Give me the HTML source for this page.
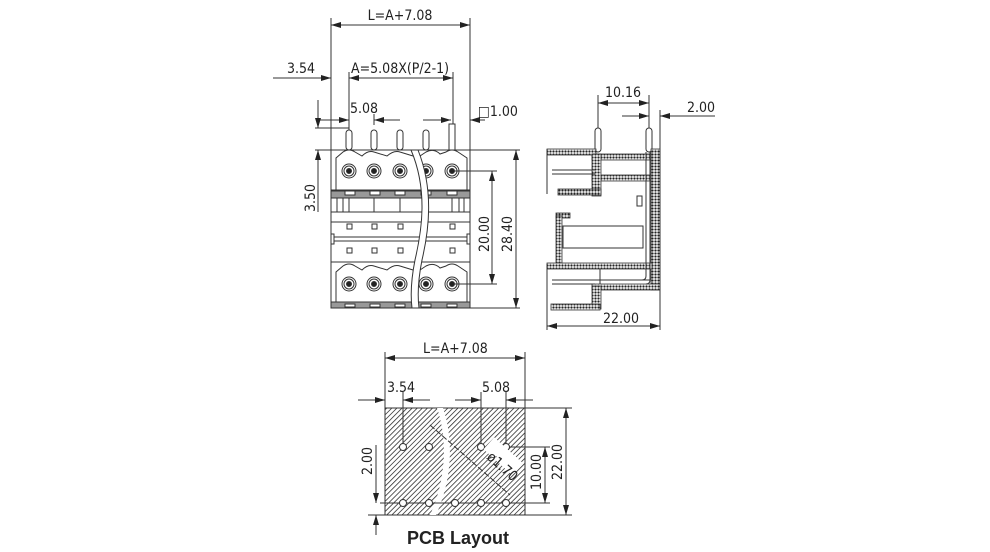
<!DOCTYPE html>
<html><head><meta charset="utf-8"><style>
html,body{margin:0;padding:0;background:#fff;}
svg{display:block;}
text{font-family:"DejaVu Sans Condensed","Liberation Sans Narrow","Liberation Sans",sans-serif;fill:#222;}
</style></head><body>
<svg width="990" height="552" viewBox="0 0 990 552" xmlns="http://www.w3.org/2000/svg">
<defs>
<marker id="a" viewBox="0 0 10 6" refX="10" refY="3" markerWidth="10" markerHeight="6" orient="auto-start-reverse" markerUnits="userSpaceOnUse"><path d="M0,0L10,3L0,6z" fill="#222"/></marker>
<pattern id="h" width="3.6" height="3.6" patternUnits="userSpaceOnUse" patternTransform="rotate(45)"><rect width="3.6" height="3.6" fill="#fff"/><line x1="0" y1="0" x2="0" y2="3.6" stroke="#333" stroke-width="1.6"/></pattern>
<pattern id="d" width="3" height="3" patternUnits="userSpaceOnUse"><rect width="3" height="3" fill="#fff"/><circle cx="1.5" cy="1.5" r="1.15" fill="#222"/></pattern>
</defs>
<g stroke="#333" stroke-width="1" fill="none">
<!-- FRONT VIEW dims -->
<line x1="331" y1="18" x2="331" y2="150"/><line x1="470" y1="18" x2="470" y2="150"/>
<line x1="331" y1="25" x2="470" y2="25" marker-start="url(#a)" marker-end="url(#a)"/>
<line x1="273" y1="78" x2="331" y2="78" marker-end="url(#a)"/>
<line x1="349" y1="78" x2="453" y2="78" marker-start="url(#a)" marker-end="url(#a)"/>
<line x1="349" y1="72" x2="349" y2="130"/><line x1="453" y1="72" x2="453" y2="125"/>
<line x1="320" y1="120" x2="349" y2="120" marker-end="url(#a)"/>
<line x1="374" y1="120" x2="400" y2="120" marker-start="url(#a)"/>
<line x1="374" y1="114" x2="374" y2="125"/>
<line x1="423" y1="120" x2="451" y2="120" marker-end="url(#a)"/>
<line x1="470" y1="120" x2="485" y2="120" marker-start="url(#a)"/>
<line x1="315" y1="128" x2="349" y2="128"/><line x1="315" y1="150" x2="520" y2="150"/>
<line x1="318" y1="100" x2="318" y2="128" marker-end="url(#a)"/>
<line x1="318" y1="150" x2="318" y2="212" marker-start="url(#a)"/>
<line x1="452" y1="171" x2="497" y2="171"/><line x1="452" y1="284" x2="497" y2="284"/>
<line x1="470" y1="308" x2="520" y2="308"/>
<line x1="492" y1="171" x2="492" y2="284" marker-start="url(#a)" marker-end="url(#a)"/>
<line x1="516" y1="150" x2="516" y2="308" marker-start="url(#a)" marker-end="url(#a)"/>
<!-- body -->
<line x1="331" y1="150" x2="331" y2="308"/><line x1="470" y1="150" x2="470" y2="308"/>
<path d="M336,190 V158 L343,152 Q349,148 355,152 L362,156 Q368,150 374,152 L387,156 Q394,150 400,152 L413,156 M420,156 L426,152 Q434,148 440,154 L446,152 Q452,148 458,152 L467,158 V190"/>
<line x1="331" y1="190" x2="470" y2="190"/>
<rect x="331" y="191" width="139" height="7" fill="#999"/>
<line x1="331" y1="212" x2="470" y2="212"/><line x1="331" y1="222" x2="470" y2="222"/>
<line x1="331" y1="237" x2="470" y2="237"/><line x1="331" y1="241" x2="470" y2="241"/>
<line x1="331" y1="262" x2="470" y2="262"/>
<path d="M336,302 V272 L343,266 Q349,262 355,266 L362,270 Q368,264 374,266 L387,270 Q394,264 400,266 L413,270 M420,270 L426,266 Q434,262 440,268 L446,266 Q452,262 458,266 L467,272 V302"/>
<rect x="331" y="302" width="139" height="6" fill="#999"/>
<g fill="#fff">
<rect x="346" y="130" width="6" height="20" rx="3"/><rect x="371" y="130" width="6" height="20" rx="3"/><rect x="397" y="130" width="6" height="20" rx="3"/><rect x="423" y="130" width="6" height="20" rx="3"/><rect x="449" y="124" width="6" height="26"/>
</g>
<g fill="#fff">
<rect x="345" y="191" width="10" height="4"/><rect x="370" y="191" width="10" height="4"/><rect x="395" y="191" width="10" height="4"/><rect x="421" y="191" width="10" height="4"/><rect x="447" y="191" width="10" height="4"/>
<rect x="345" y="304" width="10" height="3"/><rect x="370" y="304" width="10" height="3"/><rect x="395" y="304" width="10" height="3"/><rect x="421" y="304" width="10" height="3"/><rect x="447" y="304" width="10" height="3"/>
<rect x="347" y="224" width="5" height="5"/><rect x="372" y="224" width="5" height="5"/><rect x="398" y="224" width="5" height="5"/><rect x="450" y="224" width="5" height="5"/>
<rect x="347" y="248" width="5" height="5"/><rect x="372" y="248" width="5" height="5"/><rect x="398" y="248" width="5" height="5"/><rect x="450" y="248" width="5" height="5"/>
<rect x="331" y="234" width="3" height="10"/><rect x="467" y="234" width="3" height="10"/>
</g>
<g>
<line x1="337" y1="198" x2="337" y2="212"/><line x1="343" y1="198" x2="343" y2="212"/><line x1="349" y1="198" x2="349" y2="212"/><line x1="374" y1="198" x2="374" y2="212"/><line x1="400" y1="198" x2="400" y2="212"/><line x1="452" y1="198" x2="452" y2="212"/><line x1="459" y1="198" x2="459" y2="212"/><line x1="464" y1="198" x2="464" y2="212"/>
</g>
<g id="c1">
<circle cx="349" cy="171" r="7"/><circle cx="349" cy="171" r="5"/><circle cx="349" cy="171" r="2.5" fill="#222"/>
<circle cx="374" cy="171" r="7"/><circle cx="374" cy="171" r="5"/><circle cx="374" cy="171" r="2.5" fill="#222"/>
<circle cx="400" cy="171" r="7"/><circle cx="400" cy="171" r="5"/><circle cx="400" cy="171" r="2.5" fill="#222"/>
<circle cx="426" cy="171" r="7"/><circle cx="426" cy="171" r="5"/><circle cx="426" cy="171" r="2.5" fill="#222"/>
<circle cx="452" cy="171" r="7"/><circle cx="452" cy="171" r="5"/><circle cx="452" cy="171" r="2.5" fill="#222"/>
</g>
<use href="#c1" y="113"/>
<path d="M411,150 C428,190 422,230 415,260 C410,285 411,300 412,308 L419,308 C418,300 417,285 422,260 C429,230 434,190 418,150 Z" fill="#fff" stroke="#333"/>

<!-- SIDE VIEW -->
<line x1="598" y1="95" x2="598" y2="130"/><line x1="649" y1="95" x2="649" y2="130"/>
<line x1="598" y1="103" x2="649" y2="103" marker-start="url(#a)" marker-end="url(#a)"/>
<line x1="622" y1="116" x2="649" y2="116" marker-end="url(#a)"/>
<line x1="660" y1="116" x2="715" y2="116" marker-start="url(#a)"/>
<line x1="660" y1="110" x2="660" y2="330"/><line x1="547" y1="300" x2="547" y2="330"/>
<line x1="547" y1="326" x2="660" y2="326" marker-start="url(#a)" marker-end="url(#a)"/>
<rect x="595" y="128" width="6" height="24" rx="3" fill="#fff"/><rect x="646" y="128" width="6" height="24" rx="3" fill="#fff"/>
<g fill="url(#d)" stroke="#333" stroke-width="0.8">
<rect x="547" y="149" width="49" height="6"/>
<rect x="592" y="154" width="60" height="6"/>
<rect x="592" y="175" width="60" height="6"/>
<rect x="592" y="154" width="9" height="42"/>
<rect x="558" y="189" width="43" height="6"/>
<rect x="651" y="149" width="9" height="141"/>
<rect x="556" y="213" width="14" height="5"/>
<rect x="556" y="216" width="6" height="50"/>
<rect x="547" y="263" width="105" height="6"/>
<rect x="592" y="284" width="68" height="6"/>
<rect x="592" y="286" width="9" height="23"/>
<rect x="551" y="304" width="49" height="6"/>
</g>
<line x1="547" y1="149" x2="547" y2="194"/><line x1="547" y1="264" x2="547" y2="310"/>
<line x1="552" y1="170" x2="595" y2="170"/><line x1="552" y1="174" x2="595" y2="174"/>
<line x1="552" y1="280" x2="650" y2="280"/><line x1="552" y1="284" x2="595" y2="284"/>
<path d="M646,152 V276 Q646,280 642,280" /><path d="M650,152 V280 Q650,284 646,284"/>
<rect x="563" y="226" width="80" height="22"/>
<rect x="637" y="196" width="5" height="10"/>
<line x1="600" y1="269" x2="600" y2="284"/>
</g>

<!-- PCB -->
<g stroke="#333" stroke-width="1" fill="none">
<rect x="385" y="408" width="140" height="107" fill="url(#h)"/>
<path d="M437,408 C448,440 446,480 430,515 L436,515 C452,480 454,440 443,408 Z" fill="#fff" stroke="none"/>
<line x1="385" y1="352" x2="385" y2="408"/><line x1="525" y1="352" x2="525" y2="408"/>
<line x1="385" y1="358" x2="525" y2="358" marker-start="url(#a)" marker-end="url(#a)"/>
<line x1="358" y1="400" x2="385" y2="400" marker-end="url(#a)"/>
<line x1="403" y1="400" x2="430" y2="400" marker-start="url(#a)"/>
<line x1="455" y1="400" x2="481" y2="400" marker-end="url(#a)"/>
<line x1="506" y1="400" x2="533" y2="400" marker-start="url(#a)"/>
<line x1="403" y1="392" x2="403" y2="447"/><line x1="481" y1="392" x2="481" y2="447"/><line x1="506" y1="392" x2="506" y2="447"/>
<line x1="525" y1="408" x2="572" y2="408"/><line x1="525" y1="515" x2="572" y2="515"/>
<line x1="506" y1="447" x2="550" y2="447"/><line x1="380" y1="503" x2="550" y2="503"/>
<line x1="368" y1="515" x2="385" y2="515"/>
<line x1="566" y1="408" x2="566" y2="515" marker-start="url(#a)" marker-end="url(#a)"/>
<line x1="545" y1="447" x2="545" y2="503" marker-start="url(#a)" marker-end="url(#a)"/>
<line x1="376" y1="445" x2="376" y2="503" marker-end="url(#a)"/>
<line x1="376" y1="535" x2="376" y2="515" marker-end="url(#a)"/>
<line x1="430" y1="425" x2="510" y2="495" stroke-dasharray="6,2"/>
<g fill="#fff" stroke="#333">
<circle cx="403" cy="447" r="3.5"/><circle cx="429" cy="447" r="3.5"/><circle cx="481" cy="447" r="3.5"/><circle cx="506" cy="447" r="3.5"/>
<circle cx="403" cy="503" r="3.5"/><circle cx="429" cy="503" r="3.5"/><circle cx="455" cy="503" r="3.5"/><circle cx="481" cy="503" r="3.5"/><circle cx="506" cy="503" r="3.5"/>
</g>
<rect x="484" y="448" width="38" height="16" fill="#fff" stroke="none" transform="rotate(42 503 456)"/>
</g>
<g font-size="14">
<text x="400" y="20" text-anchor="middle">L=A+7.08</text>
<text x="287" y="73">3.54</text>
<text x="351" y="73">A=5.08X(P/2-1)</text>
<text x="350" y="113">5.08</text>
<text x="478" y="116">□1.00</text>
<text transform="translate(315,212) rotate(-90)">3.50</text>
<text transform="translate(489,252) rotate(-90)">20.00</text>
<text transform="translate(512,252) rotate(-90)">28.40</text>
<text x="605" y="97">10.16</text>
<text x="687" y="112">2.00</text>
<text x="603" y="323">22.00</text>
<text x="423" y="353">L=A+7.08</text>
<text x="387" y="392">3.54</text>
<text x="482" y="392">5.08</text>
<text transform="translate(372,475) rotate(-90)">2.00</text>
<text transform="translate(541,490) rotate(-90)">10.00</text>
<text transform="translate(562,480) rotate(-90)">22.00</text>
<text transform="translate(486,458) rotate(42)">ø1.70</text>
</g>
<text x="458" y="544" text-anchor="middle" font-size="18" font-weight="bold" style="font-family:'Liberation Sans',sans-serif">PCB Layout</text>
</svg>
</body></html>
